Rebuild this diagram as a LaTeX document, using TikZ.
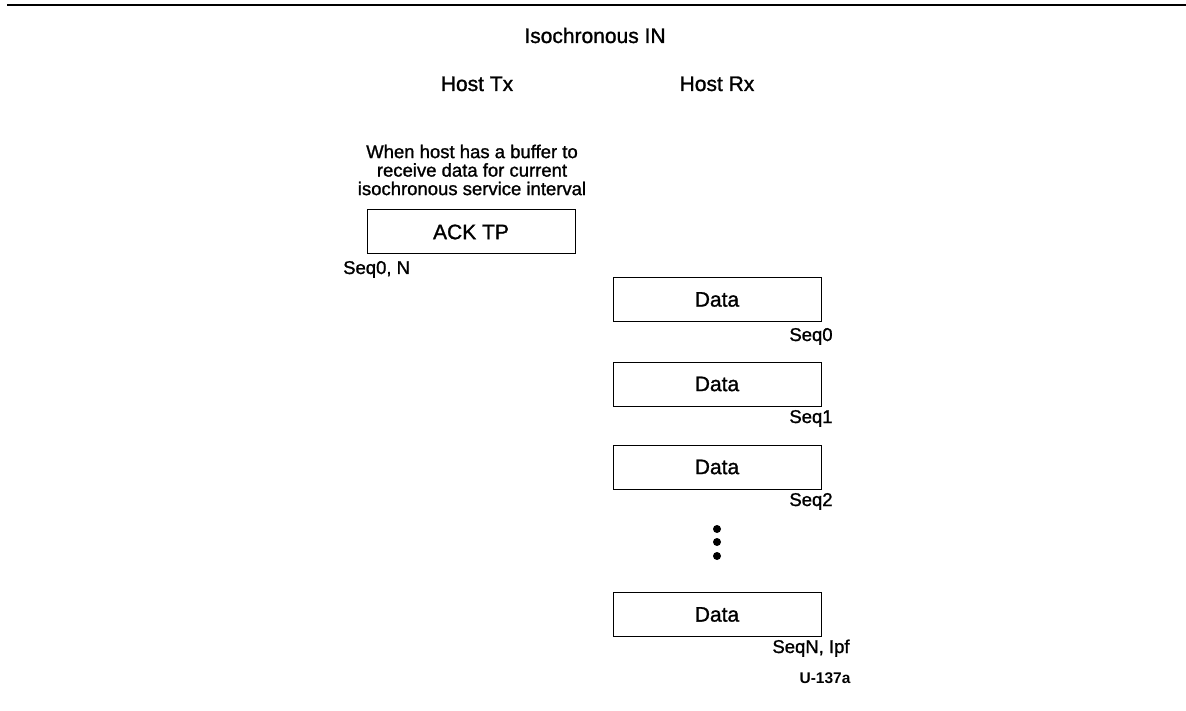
\documentclass[tikz,border=0pt]{standalone}
\usepackage{fontspec}
\setmainfont{Liberation Sans}[UprightFeatures={FakeBold=1.2}]
\usetikzlibrary{positioning}
\newcommand{\BigTxt}{\fontsize{21}{21}\selectfont}
\newcommand{\MidTxt}{\fontsize{18.5}{18.5}\selectfont}

\begin{document}
\begin{tikzpicture}[x=1pt,y=-1pt,
  frame/.style={draw,line width=1pt,minimum width=208pt,minimum height=44pt,inner sep=0pt,font=\BigTxt},
  head/.style={inner sep=0pt,anchor=base,font=\BigTxt},
  seqlbl/.style={inner sep=0pt,anchor=base,font=\MidTxt}]
\useasboundingbox (0,0) rectangle (1186,711);

\draw[line width=2pt] (7,5) -- (1186,5);

\node[head] (title) at (595,43) {Isochronous IN};
\node[head] (hosttx) at (477,91) {Host Tx};
\node[head] (hostrx) at (717,91) {Host Rx};

\node[inner sep=0pt,anchor=north,align=center,font=\MidTxt] (note) at (472,144.5) {When host has a buffer to\\receive data for current\\isochronous service interval};

\node[frame] (ack) at (471,232) {ACK TP};
\node[seqlbl,anchor=base west] (ackseq) at (343,274) {Seq0, N};

\node[frame] (data0) at (717,299.5) {Data};
\node[frame] (data1) at (717,384) {Data};
\node[frame] (data2) at (717,467) {Data};
\node[frame] (datan) at (717,614.5) {Data};

\node[seqlbl] (seq0) at (811,341) {Seq0};
\node[seqlbl] (seq1) at (811,423) {Seq1};
\node[seqlbl] (seq2) at (811,506) {Seq2};
\node[seqlbl] (seqn) at (811,653) {SeqN, Ipf};

\fill (717,529) circle (4);
\fill (717,542) circle (4);
\fill (717,556) circle (4);

\node[inner sep=0pt,anchor=base,font=\fontsize{15.5}{15.5}\selectfont\bfseries] (figid) at (825,683) {U-137a};

\end{tikzpicture}
\end{document}
